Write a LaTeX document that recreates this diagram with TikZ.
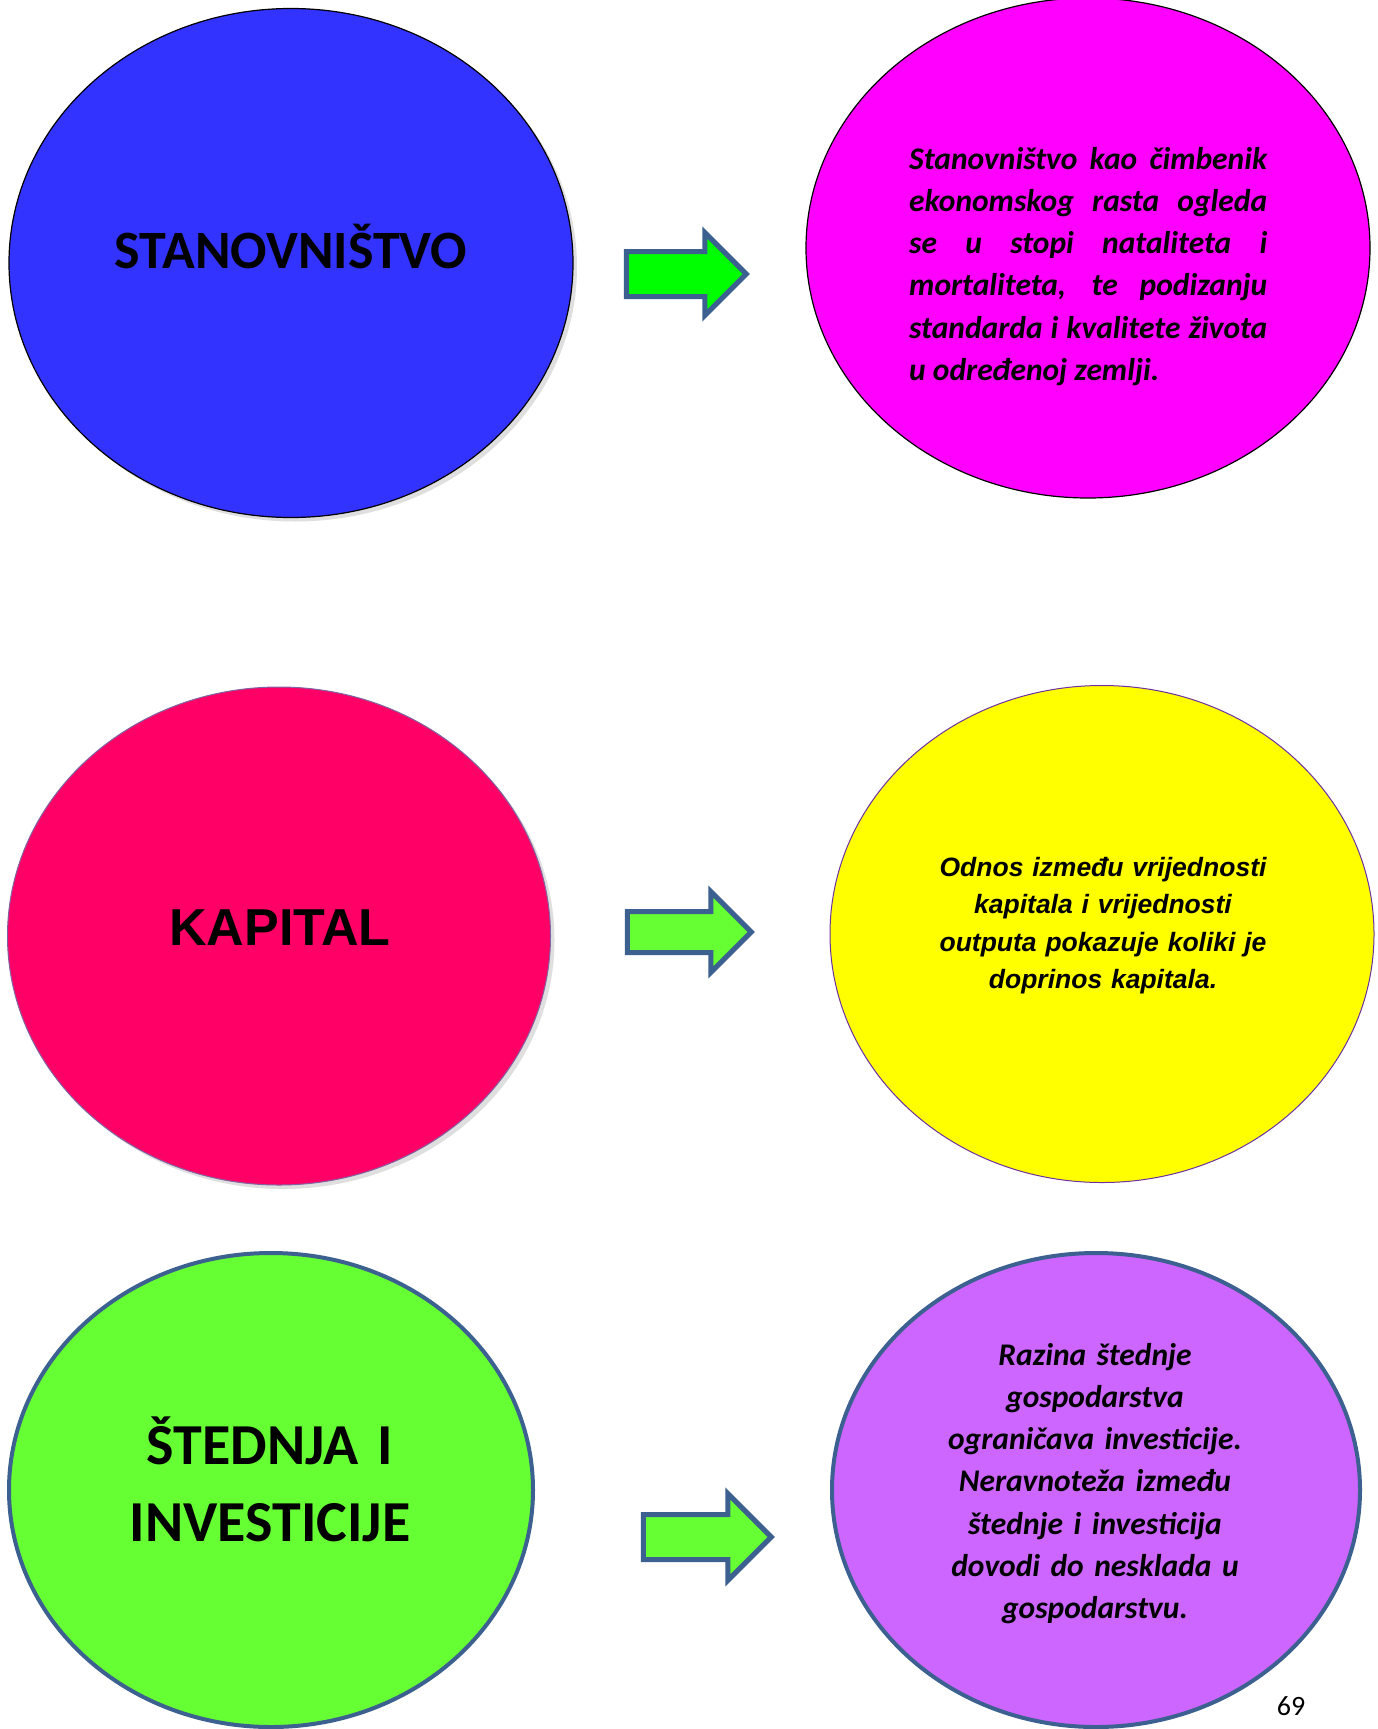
\documentclass[tikz,border=0pt]{standalone}
\usepackage{fontspec}
\setmainfont{Carlito}
\newfontfamily\arialfont{Liberation Sans}
\usepackage{xcolor}
\usepackage{tikz}
\usetikzlibrary{shapes.geometric, shapes.arrows, shadows}

\definecolor{popblue}{HTML}{3333FF}
\definecolor{popmagenta}{HTML}{FF00FF}
\definecolor{popred}{HTML}{FF0066}
\definecolor{popyellow}{HTML}{FFFF00}
\definecolor{popgreen}{HTML}{66FF33}
\definecolor{popviolet}{HTML}{CC66FF}
\definecolor{arrowgreen}{HTML}{00FF00}
\definecolor{edgeblue}{HTML}{3C6190}
\definecolor{edgepurple}{HTML}{7030A0}
\definecolor{edgelilac}{HTML}{8064A2}

\begin{document}
\begin{tikzpicture}[
  x=1pt, y=-1pt,
  blob/.style={ellipse, inner sep=0pt, outer sep=0pt},
  softshadow/.style={drop shadow={opacity=.25, shadow xshift=4pt, shadow yshift=-4pt}},
  blockarrow/.style={single arrow, draw=edgeblue, line width=5pt, inner xsep=0pt,
    minimum width=0pt, outer sep=0pt},
  title/.style={anchor=base, inner sep=0pt},
  blurb/.style={anchor=base, inner sep=0pt, font=\fontsize{31.5}{42.3}\selectfont\bfseries\itshape}
]
\fill[white] (0,0) rectangle (1377,1729);
\useasboundingbox (0,0) rectangle (1377,1729);

% row 1
\node[blob, softshadow, fill=popblue, draw=black, line width=1.2pt,
  minimum width=564pt, minimum height=509pt] (stan) at (291,263) {};
\node[blob, fill=popmagenta, draw=black, line width=1.2pt,
  minimum width=564pt, minimum height=500pt] (standesc) at (1088,248) {};
\node[blockarrow, fill=arrowgreen, inner ysep=20pt, single arrow head extend=19pt,
  minimum height=120pt] (arrowa) at (675,274) {};
\node[title, font=\fontsize{54}{60}\selectfont\bfseries] (stanlbl) at (291,268) {STANOVNIŠTVO};
\node[blurb, anchor=base west, text width=358pt, align=justify] (standesclbl) at (909,169)
  {Stanovništvo kao čimbenik\linebreak ekonomskog rasta ogleda\linebreak se u stopi nataliteta i\linebreak
   mortaliteta, te podizanju\linebreak standarda i kvalitete života\linebreak u određenoj zemlji.};

% row 2
\node[blob, softshadow, fill=popred, draw=edgelilac, line width=1pt,
  minimum width=543pt, minimum height=498pt] (kap) at (279,936) {};
\node[blob, fill=popyellow, draw=edgepurple, line width=1pt,
  minimum width=544pt, minimum height=497pt] (kapdesc) at (1102,934) {};
\node[blockarrow, fill=popgreen, inner ysep=18pt, single arrow head extend=20pt,
  minimum height=124pt] (arrowb) at (679,932) {};
\node[title, font=\arialfont\fontsize{52}{60}\selectfont\bfseries] (kaplbl) at (280,945) {KAPITAL};
\node[anchor=base, inner sep=0pt, text width=380pt, align=center,
  font=\arialfont\fontsize{26.5}{37.5}\selectfont\bfseries\itshape] (kapdesclbl) at (1103,876)
  {Odnos između vrijednosti\\ kapitala i vrijednosti\\ outputa pokazuje koliki je\\ doprinos kapitala.};

% row 3
\node[blob, fill=popgreen, draw=edgeblue, line width=4pt,
  minimum width=524pt, minimum height=474pt] (sted) at (271,1490) {};
\node[blob, fill=popviolet, draw=edgeblue, line width=4pt,
  minimum width=528pt, minimum height=474pt] (steddesc) at (1096,1490) {};
\node[blockarrow, fill=popgreen, inner ysep=20pt, single arrow head extend=21pt,
  minimum height=128pt] (arrowc) at (696,1537) {};
\node[title, text width=420pt, align=center, font=\fontsize{58}{77}\selectfont\bfseries]
  (stedlbl) at (270,1464) {ŠTEDNJA I\\ INVESTICIJE};
\node[blurb, text width=420pt, align=center] (steddesclbl) at (1095,1365)
  {Razina štednje\\ gospodarstva\\ ograničava investicije.\\ Neravnoteža između\\
   štednje i investicija\\ dovodi do nesklada u\\ gospodarstvu.};

\node[title, font=\fontsize{28}{30}\selectfont] (pagenum) at (1291,1715) {69};
\end{tikzpicture}
\end{document}
